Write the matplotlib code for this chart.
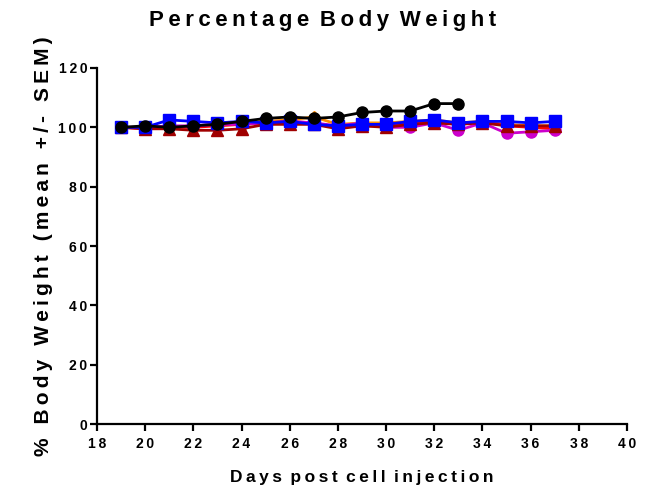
import matplotlib
matplotlib.use('Agg')
import matplotlib.pyplot as plt

plt.rcParams['font.family'] = ['Liberation Sans', 'DejaVu Sans']
plt.rcParams['font.weight'] = 'bold'

days = [19, 20, 21, 22, 23, 24, 25, 26, 27, 28, 29, 30, 31, 32, 33, 34, 35, 36, 37]
days_black = [19, 20, 21, 22, 23, 24, 25, 26, 27, 28, 29, 30, 31, 32, 33]

black = [100, 100.5, 100, 100.5, 101, 102, 103, 103.5, 103, 103.5, 105, 105.5, 105.5, 108, 108]
blue = [100, 100, 102.5, 102, 101.5, 102, 101.5, 102, 101, 100.5, 101, 101, 102, 102.5, 101.5, 102, 102, 101.5, 102]
darkred = [100, 99.5, 99.5, 99, 99, 99.5, 101, 101, 101, 99.5, 100.5, 100, 101, 101.5, 101, 101.5, 100.5, 100.5, 100.5]
magenta = [100, 100, 100.5, 100.5, 101, 101, 101.5, 102, 101.5, 100.5, 101.5, 100, 100, 101.5, 99, 101.5, 98, 98.5, 99]
orange = [100, 100, 100, 100.5, 101, 101.5, 102, 102.5, 103.5, 101, 101.5, 101.5, 102, 102.5, 101.5, 102, 101, 100.5, 100.5]
red = [100, 99.5, 100, 100, 100.5, 101, 101.5, 102, 101.5, 100, 100.5, 100.5, 101.5, 102, 101, 102, 100.5, 100, 99.5]

xticks = list(range(18, 41, 2))
yticks = list(range(0, 121, 20))


def spaced(s, gap=' \u2009'):
    # letter-spaced text, words separated by a wider gap
    return gap.join('\u2009'.join(w) for w in s.split())


fig = plt.figure(figsize=(6.66, 4.92), dpi=100)
ax = fig.add_axes([0.1456, 0.1382, 0.7958, 0.7236])

ax.plot(days, orange, color='#ff8c00', marker='D', markersize=6, lw=2, zorder=3)
ax.plot(days, red, color='#ff0000', marker='v', markersize=7, lw=2, zorder=3)
ax.plot(days, magenta, color='#cc00cc', marker='o', markersize=8, lw=2, zorder=4)
ax.plot(days, darkred, color='#a00000', marker='^', markersize=8, lw=2, zorder=4)
ax.plot(days, blue, color='#0000ff', marker='s', markersize=8, lw=2, zorder=5)
ax.plot(days_black, black, color='black', marker='o', markersize=8, lw=2, zorder=6)

ax.set_xlim(18, 40)
ax.set_ylim(0, 120)
ax.set_xticks(xticks)
ax.set_xticklabels([spaced(str(t)) for t in xticks], fontsize=10, fontweight='bold')
ax.set_yticks(yticks)
ax.set_yticklabels([spaced(str(t)) for t in yticks], fontsize=10, fontweight='bold')

for s in ['top', 'right']:
    ax.spines[s].set_visible(False)
for s in ['left', 'bottom']:
    ax.spines[s].set_linewidth(1.6)
ax.tick_params(axis='y', direction='out', length=5, width=1.6, pad=2)
ax.tick_params(axis='x', direction='out', length=5, width=1.6, pad=4)

ax.set_title(spaced('Percentage Body Weight'), fontsize=16, fontweight='bold',
             pad=30, x=0.425)
ax.set_xlabel(spaced('Days post cell injection'), fontsize=12.5, fontweight='bold', labelpad=14)
ax.set_ylabel(spaced('% Body Weight (mean +/- SEM)', gap=' \u2009\u2009'),
              fontsize=15, fontweight='bold', labelpad=4)

fig.savefig('out.png', dpi=100)
